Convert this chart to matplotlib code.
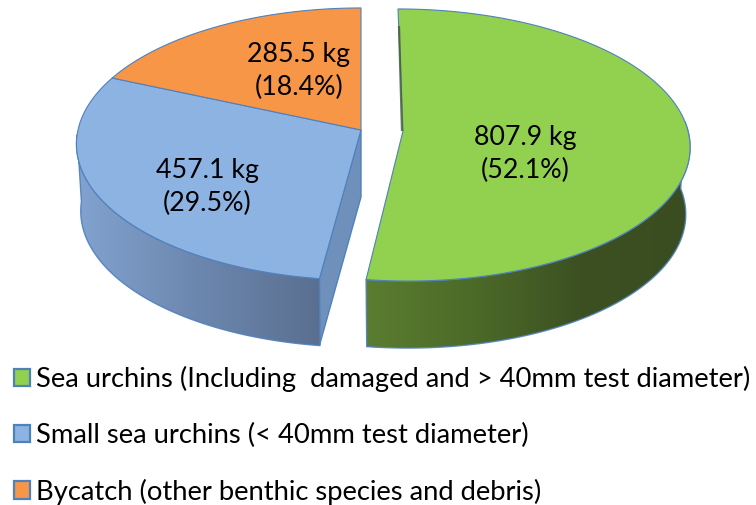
import numpy as np
import matplotlib
matplotlib.use("Agg")
import matplotlib.pyplot as plt
from matplotlib.colors import LinearSegmentedColormap
from matplotlib.patches import Patch, Polygon

plt.rcParams["font.family"] = ["Lato", "DejaVu Sans"]

# data
names = ["Sea urchins (Including  damaged and > 40mm test diameter)",
         "Small sea urchins (< 40mm test diameter)",
         "Bycatch (other benthic species and debris)"]
masses = [807.9, 457.1, 285.5]
percents = [52.1, 29.5, 18.4]
top_colors = ["#92D050", "#8DB3E2", "#F79646"]

EDGE = "#4F81BD"
FS = 19.3
FS_LEG = 19.75

# pie geometry in pixels, with a slight perspective so the front looks bigger
RY = 134.6
PERSP = 0.103
DEPTH = 67.0
# centre x, centre y, x radius, shear
GREEN_C = (403.0, 131.0, 285.0, 5.0)
REST_C = (361.0, 130.0, 283.0, 0.0)


def rim(c, angles, drop=0.0, shrink=1.0):
    """Screen points on the pie rim; angle in degrees clockwise from 12 o'clock."""
    a = np.radians(angles)
    u, v = np.sin(a), np.cos(a)
    w = 1 + PERSP * v
    return np.column_stack([c[0] + shrink * c[2] * u / w - c[3] * v,
                            c[1] - RY * v / w + drop])


def wall_poly(c, a0, a1):
    top = rim(c, np.linspace(a0, a1, 120))
    bot = rim(c, np.linspace(a1, a0, 120), drop=DEPTH, shrink=0.985)
    return np.vstack([top, bot])


def gradient_wall(ax, pts, stops):
    x0, x1 = pts[:, 0].min(), pts[:, 0].max()
    y0, y1 = pts[:, 1].min(), pts[:, 1].max()
    cmap = LinearSegmentedColormap.from_list("wall", stops)
    im = ax.imshow(np.linspace(0, 1, 256).reshape(1, -1), cmap=cmap, aspect="auto",
                   extent=(x0, x1, y1, y0), zorder=2, interpolation="bilinear")
    poly = Polygon(pts, closed=True, fc="none", ec=EDGE, lw=1.0, alpha=0.9, zorder=2.5)
    ax.add_patch(poly)
    im.set_clip_path(poly)


fig = plt.figure(figsize=(7.56, 5.05), dpi=100)
ax = fig.add_axes([0, 0, 1, 1])

# slice angles from the values
total = sum(masses)
edges = np.cumsum([0] + [m / total * 360 for m in masses])
green_a = edges[:2]
blue_a = edges[1:3]

# cut face of the blue slice, seen through the gap
p_apex = np.array(REST_C[:2])
p_end = rim(REST_C, [blue_a[0]])[0]
ax.add_patch(Polygon([p_apex, p_end, p_end + (0, DEPTH), p_apex + (0, DEPTH)], closed=True,
                     fc="#7090BC", ec=EDGE, lw=1.0, zorder=1.5))

# outer walls
gradient_wall(ax, wall_poly(REST_C, blue_a[0], 268),
              ["#82A3D0", "#6C87AE", "#5A6F90"])
gradient_wall(ax, wall_poly(GREEN_C, 86, green_a[1]),
              ["#5A7D30", "#4C6A28", "#3C5022", "#3A4D20"])

# top faces
centers = [GREEN_C, REST_C, REST_C]
for i, col in enumerate(top_colors):
    c = centers[i]
    arc = rim(c, np.linspace(edges[i], edges[i + 1], 200))
    ax.add_patch(Polygon(np.vstack([c[:2], arc]), closed=True, fc=col, ec=EDGE,
                         lw=0.8, zorder=3, joinstyle="round"))

# dark sliver on the left side of the green slice
ax.plot([GREEN_C[0] - 4.0, GREEN_C[0] - 1.0], [GREEN_C[1] - 105, GREEN_C[1]], color="#46603A",
        lw=1.6, alpha=0.85, zorder=3.5, solid_capstyle="butt")

# value labels
label_xy = [(525, 154), (207, 187), (299, 71)]
for (x, y), m, p in zip(label_xy, masses, percents):
    ax.text(x, y, f"{m:.1f} kg\n({p:.1f}%)", ha="center", va="center", fontsize=FS,
            color="black", linespacing=1.38, zorder=5)

ax.set_xlim(0, 756)
ax.set_ylim(505, 0)
ax.axis("off")

handles = [Patch(fc=c, ec=EDGE, lw=1.6) for c in top_colors]
ax.legend(handles, names, loc="upper left", bbox_to_anchor=(14 / 756, 1 - 366 / 505),
          frameon=False, fontsize=FS_LEG, borderpad=0, borderaxespad=0, handlelength=0.6,
          handleheight=0.6, handletextpad=0.2, labelspacing=1.12)

fig.savefig("out.png", dpi=100)
